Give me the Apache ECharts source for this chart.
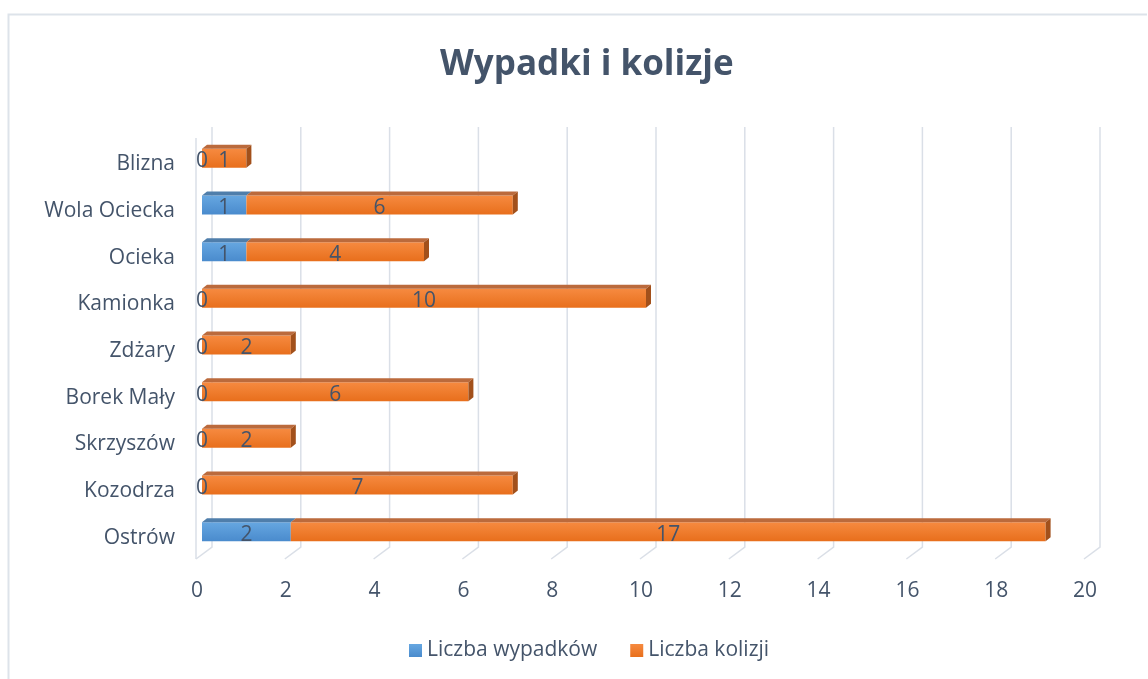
<!DOCTYPE html>
<html>
<head>
<meta charset="utf-8">
<script src="https://cdn.jsdelivr.net/npm/echarts@6/dist/echarts.min.js"></script>
<style>
  html, body { margin: 0; padding: 0; background: #fff; }
  #chart { width: 1148px; height: 679px; }
</style>
</head>
<body>
<div id="chart"></div>
<script>
// data
const categories = ['Ostrów', 'Kozodrza', 'Skrzyszów', 'Borek Mały', 'Zdżary', 'Kamionka', 'Ocieka', 'Wola Ociecka', 'Blizna']
const wypadki = [2, 0, 0, 0, 0, 0, 1, 1, 0]
const kolizje = [17, 7, 2, 6, 2, 10, 4, 6, 1]
const ticks = [0, 2, 4, 6, 8, 10, 12, 14, 16, 18, 20]

const textColor = '#44546A'
const font = '"Open Sans", sans-serif'
const barH = 19
const depthX = 5, depthY = -4

function grad(c1, c2) {
  return new echarts.graphic.LinearGradient(0, 0, 0, 1, [
    {offset: 0, color: c1}, {offset: 1, color: c2}
  ])
}

let chart = echarts.init(document.getElementById('chart'))

// back wall gridlines + floor diagonals, drawn from the value axis scale
function renderGrid(params, api) {
  let cs = params.coordSys
  let v = api.value(0)
  let xb = api.coord([v, 0])[0]
  let bottom = cs.y + cs.height
  let top = cs.y
  let style = {stroke: '#dadfe7', lineWidth: 1.5, fill: null}
  let children = [{
    type: 'polyline',
    shape: {points: [[xb - 6, bottom + 4], [xb + 10, bottom - 8], [xb + 10, top - 8]]},
    style: style
  }]
  if (v === 0) {
    children.push({
      type: 'line',
      shape: {x1: xb - 6, y1: top + 3, x2: xb - 6, y2: bottom + 4},
      style: style
    })
  }
  return {type: 'group', children: children}
}

// top and side faces for the 3D look
function render3d(params, api) {
  let i = api.value(0)
  let a = wypadki[i], b = kolizje[i]
  let p0 = api.coord([0, i])
  let x0 = p0[0], yc = p0[1]
  let x1 = api.coord([a, i])[0]
  let x2 = api.coord([a + b, i])[0]
  let t = yc - barH / 2, bt = yc + barH / 2
  let children = []
  if (a > 0) {
    children.push({
      type: 'polygon',
      shape: {points: [[x0, t], [x1, t], [x1 + depthX, t + depthY], [x0 + depthX, t + depthY]]},
      style: {fill: '#4f7eab'}
    })
  }
  children.push({
    type: 'polygon',
    shape: {points: [[x1, t], [x2, t], [x2 + depthX, t + depthY], [x1 + depthX, t + depthY]]},
    style: {fill: '#bb6a3c'}
  })
  children.push({
    type: 'polygon',
    shape: {points: [[x2, t], [x2 + depthX, t + depthY], [x2 + depthX, bt + depthY], [x2, bt]]},
    style: {fill: '#a2501b'}
  })
  return {type: 'group', children: children}
}

let option = {
  animation: false,
  backgroundColor: '#fff',
  title: {
    text: 'Wypadki i kolizje',
    left: 435,
    top: 43,
    textStyle: {fontFamily: font, fontSize: 35, fontWeight: 'bold', color: textColor}
  },
  legend: {
    data: ['Liczba wypadków', 'Liczba kolizji'],
    top: 635,
    left: 404,
    icon: 'rect',
    itemWidth: 13,
    itemHeight: 13,
    itemGap: 33,
    textStyle: {fontFamily: font, fontSize: 21, color: textColor}
  },
  graphic: [{
    type: 'polyline',
    shape: {points: [[8.5, 679], [8.5, 14.5], [1147, 14.5]]},
    style: {stroke: '#dde3ea', lineWidth: 2, fill: null},
    silent: true
  }],
  grid: {left: 202, right: 58, top: 135, bottom: 124},
  xAxis: {
    type: 'value',
    min: 0,
    max: 20,
    interval: 2,
    axisLine: {show: false},
    axisTick: {show: false},
    splitLine: {show: false},
    axisLabel: {
      margin: 26,
      padding: [0, 10, 0, 0],
      fontFamily: font, fontSize: 21, color: textColor
    }
  },
  yAxis: {
    type: 'category',
    data: categories,
    axisLine: {show: false},
    axisTick: {show: false},
    axisLabel: {
      margin: 27,
      formatter: v => '{a|' + v + '}',
      rich: {
        a: {padding: [12, 0, 0, 0], fontFamily: font, fontSize: 21, color: textColor}
      }
    }
  },
  series: [
    {
      type: 'custom',
      name: 'grid',
      silent: true,
      z: 0,
      renderItem: renderGrid,
      encode: {x: 0},
      data: ticks.map(v => [v, 0])
    },
    {
      name: 'Liczba wypadków',
      type: 'bar',
      stack: 'total',
      barWidth: barH,
      z: 2,
      itemStyle: {color: grad('#66a7e1', '#4a8bcd')},
      label: {
        show: true, position: 'inside', offset: [0, 3],
        fontFamily: font, fontSize: 21, color: textColor
      },
      data: wypadki
    },
    {
      name: 'Liczba kolizji',
      type: 'bar',
      stack: 'total',
      barWidth: barH,
      z: 2,
      itemStyle: {color: grad('#f68a40', '#e86f1c')},
      label: {
        show: true, position: 'inside', offset: [0, 3],
        fontFamily: font, fontSize: 21, color: textColor
      },
      data: kolizje
    },
    {
      type: 'custom',
      name: '3d',
      silent: true,
      z: 3,
      renderItem: render3d,
      encode: {y: 0},
      data: categories.map((c, i) => [i])
    }
  ]
}

chart.setOption(option)
</script>
</body>
</html>
